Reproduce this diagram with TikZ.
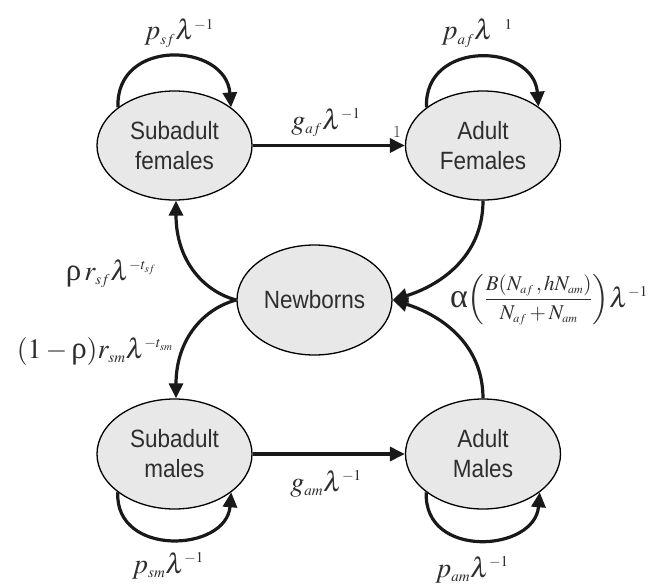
\documentclass[tikz,border=0pt]{standalone}
\usepackage{mathptmx}
\usepackage[no-math]{fontspec}
\newfontfamily\nodefont[FakeStretch=0.9]{Liberation Sans}
\newfontfamily\grk{Liberation Serif}
\newcommand\glam{\lambda}
\newcommand\grho{\mbox{\grk\fontsize{31}{31}\selectfont ρ}}
\newcommand\galpha{\mbox{\grk\fontsize{34}{34}\selectfont α}}
\usetikzlibrary{shapes.geometric,arrows.meta}
\DeclareMathSizes{28}{28}{15}{11}
\DeclareMathSizes{21}{21}{12}{9}
\definecolor{nodefill}{HTML}{E8E8E8}
\definecolor{txt}{HTML}{2E2E2E}
\begin{document}
\begin{tikzpicture}[x=1pt,y=-1pt,
  state/.style={ellipse,draw=black,line width=1.3pt,fill=nodefill,
    minimum width=155pt,minimum height=109pt,inner sep=0pt,
    font=\nodefont\fontsize{25}{30}\selectfont,text=txt,align=center},
  arr/.style={line width=3.2pt,draw=black!90,
    -{Triangle[length=15pt,width=14pt]}},
  lab/.style={font=\fontsize{28}{32}\selectfont,text=txt,inner sep=0pt,anchor=base}]
\useasboundingbox (0,0) rectangle (666,586);

\node[state] (SF) at (174.5,145.5) {Subadult\\females};
\node[state] (AF) at (483,145.5) {Adult\\Females};
\node[state,minimum height=110pt] (NB) at (314.5,300) {Newborns};
\node[state,minimum height=110pt] (SM) at (174.5,454) {Subadult\\males};
\node[state,minimum height=110pt] (AM) at (483,454) {Adult\\Males};

% self loops
\draw[arr] (SF.146) .. controls +(-3,-70) and +(-5,-65) .. (SF.34);
\draw[arr] (AF.146) .. controls +(-3,-68) and +(-5,-64) .. (AF.35);
\draw[arr] (SM.-146) .. controls +(-3,65) and +(-5,60) .. (SM.-34);
\draw[arr] (AM.-146) .. controls +(-3,67) and +(-5,60) .. (AM.-34);

% growth
\draw[arr] (SF.east) -- (AF.west);
\draw[arr] (SM.east) -- (AM.west);

% newborns out
\draw[arr] (NB.west) .. controls (205,292) and (176,262) .. ([xshift=1.5pt]SF.south);
\draw[arr] (NB.west) .. controls (205,308) and (176,338) .. ([xshift=1.5pt]SM.north);

% newborns in
\draw[arr] (AF.south) .. controls (483,258) and (438,286) .. (NB.east);
\draw[arr] (AM.north) .. controls (483,342) and (438,314) .. (NB.east);

% labels
\node[lab] (lsf) at (179,40) {$p_{sf}\glam^{-1}$};
\node[lab] (laf) at (477,40) {$p_{af}\glam^{\phantom{-}1}$};
\node[lab] (lgaf) at (326,129) {$g_{af}\glam^{-1}$};
\node[font=\fontsize{17}{20}\selectfont,text=txt,inner sep=0pt,anchor=base] (one) at (397,137) {1};
\node[lab] (lgam) at (326,491) {$g_{am}\glam^{-1}$};
\node[lab] (lsm) at (168,573) {$p_{sm}\glam^{-1}$};
\node[lab] (lam) at (472,577) {$p_{am}\glam^{-1}$};
\node[lab] (lrsf) at (111,280) {$\grho\, r_{sf}\glam^{-t_{sf}}$};
\node[lab] (lrsm) at (95,358) {$(1-\grho)r_{sm}\glam^{-t_{sm}}$};
\node[lab,anchor=center] (lalpha) at (549,300)
  {$\galpha\!\left(\vcenter{\hbox{\fontsize{21}{25}\selectfont$\displaystyle\frac{B(N_{af}\,,hN_{am})}{N_{af}+N_{am}}$}}\right)\!\glam^{-1}$};
\end{tikzpicture}
\end{document}
